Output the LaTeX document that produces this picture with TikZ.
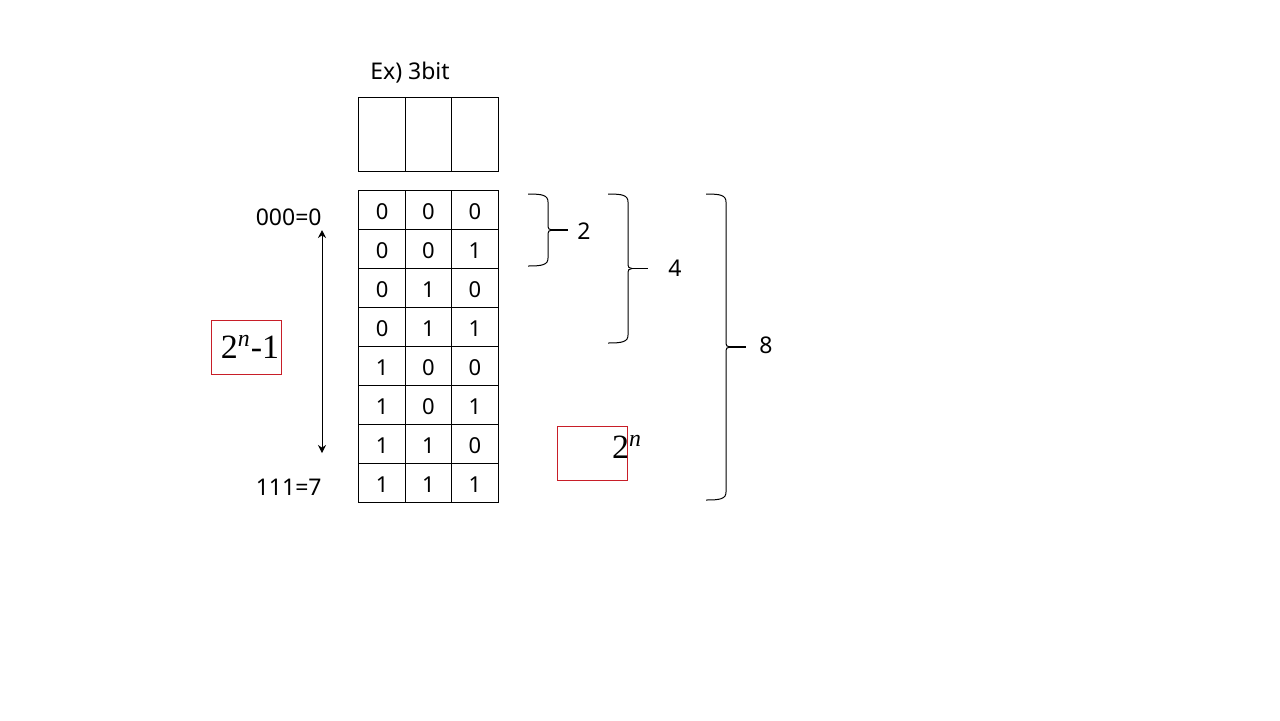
\documentclass[tikz,border=0pt]{standalone}
\usepackage{fontspec}
\setmainfont{Noto Sans}
\newfontfamily\formelfont{Liberation Serif}
\usepackage{tikz}
\usetikzlibrary{arrows.meta,positioning,calc,matrix}
\definecolor{BitRed}{RGB}{200,30,40}
\tikzset{
  cell/.style={draw, line width=0.5pt, minimum width=23.17pt, minimum height=19.5pt,
               inner sep=0pt, font=\fontsize{11}{13}\selectfont},
  regcell/.style={cell, minimum height=37pt},
  lbl/.style={font=\fontsize{11.5}{13}\selectfont, inner sep=1pt},
  redbox/.style={draw=BitRed, line width=0.5pt, minimum width=35pt, minimum height=27pt, inner sep=0pt},
  bigmath/.style={font=\formelfont\fontsize{17}{19}\selectfont, inner sep=0pt},
  brk/.style={line width=0.5pt},
  stub/.style={line width=0.9pt},
  pfeil/.style={{Stealth[length=4pt,width=4pt]}-{Stealth[length=4pt,width=4pt]}, line width=0.5pt},
}
% right brace: x, top, bottom, end of the stub
\newcommand{\drawbrace}[4]{%
  \draw[brk] (#1,#2) .. controls (#1+14,#2) and (#1+20,#2+1) .. (#1+20,#2+8)
    -- (#1+20,{(#2+#3)/2-6}) .. controls (#1+20,{(#2+#3)/2-1}) and (#1+21,{(#2+#3)/2}) .. (#1+24,{(#2+#3)/2});
  \draw[brk] (#1,#3) .. controls (#1+14,#3) and (#1+20,#3-1) .. (#1+20,#3-8)
    -- (#1+20,{(#2+#3)/2+6}) .. controls (#1+20,{(#2+#3)/2+1}) and (#1+21,{(#2+#3)/2}) .. (#1+24,{(#2+#3)/2});
  \draw[stub] (#1+23,{(#2+#3)/2}) -- (#4,{(#2+#3)/2});
}

\begin{document}
\begin{tikzpicture}[x=0.5pt, y=-0.5pt]
  \useasboundingbox (0,0) rectangle (1280,720);

  % Register
  \node[lbl] (title) at (410,73) {Ex)\ 3bit};
  \matrix (reg) [matrix of nodes, nodes={regcell}, column sep=-0.5pt] at (428.5,134)
    { {} & {} & {} \\ };

  % Wertetabelle
  \matrix (bits) [matrix of nodes, nodes={cell, text depth=0pt, text height=10pt},
                  column sep=-0.5pt, row sep=-0.5pt] at (428.5,346)
    { 0 & 0 & 0 \\
      0 & 0 & 1 \\
      0 & 1 & 0 \\
      0 & 1 & 1 \\
      1 & 0 & 0 \\
      1 & 0 & 1 \\
      1 & 1 & 0 \\
      1 & 1 & 1 \\ };

  % Bereich links
  \node[lbl, anchor=east] (zero) at (324,217) {000=0};
  \node[lbl, anchor=east] (seven) at (324,487) {111=7};
  \coordinate (arrtop) at (322,230);
  \coordinate (arrbot) at (322,453);
  \draw[pfeil] (arrtop) -- (arrbot);
  \node[redbox, bigmath] (maxval) at (246,347) {\hspace*{4pt}2\textsuperscript{\itshape n}-1};

  % Klammern
  \drawbrace{528}{194}{266}{568}
  \drawbrace{608}{194}{343}{648}
  \drawbrace{706}{194}{500}{746}
  \node[lbl] (two) at (584,231) {2};
  \node[lbl] (four) at (675,268) {4};
  \node[lbl] (eight) at (766,345) {8};

  % Anzahl
  \node[redbox] (countbox) at (592.5,453) {};
  \node[bigmath] (count) at (627,447) {2\textsuperscript{\itshape n}};
\end{tikzpicture}
\end{document}
